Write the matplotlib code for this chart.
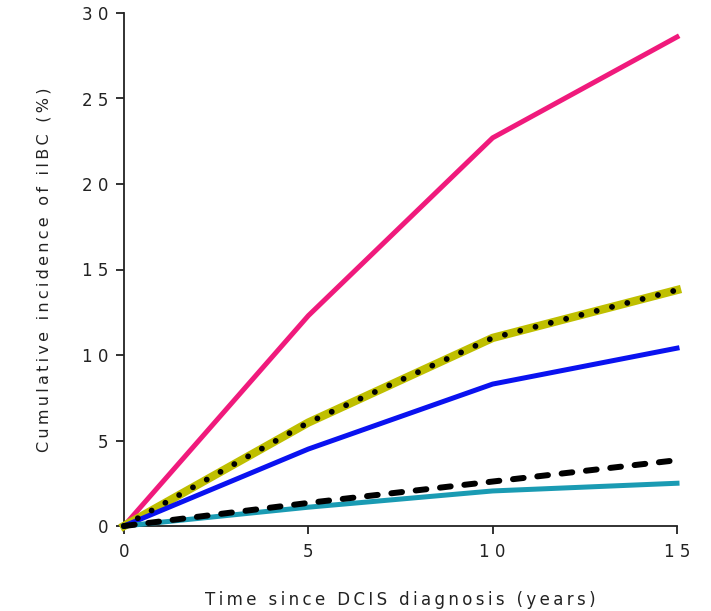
import numpy as np
import matplotlib.pyplot as plt

years = [0, 5, 10, 15]
pink = [0, 12.3, 22.7, 28.6]
olive = [0, 6.05, 11.0, 13.8]
blue = [0, 4.5, 8.3, 10.4]
dashed = [0, 1.35, 2.6, 3.85]
teal = [0, 1.1, 2.05, 2.5]

x_ticks = [0, 5, 10, 15]
y_ticks = [0, 5, 10, 15, 20, 25, 30]

x_label = 'Time since DCIS diagnosis (years)'
y_label = 'Cumulative incidence of iIBC (%)'


def spaced(v):
    # tick labels in the original have a gap between digits
    return ' '.join(str(v))


def tracked(s):
    # loose letter spacing, done with thin spaces
    return '\u2009'.join(s)


fig = plt.figure(figsize=(7.11, 6.11), dpi=100)
ax = fig.add_axes([124 / 711, 85 / 611, 553 / 711, 513 / 611])

ax.plot(years, pink, color='#f01a7c', lw=3.6, clip_on=False, zorder=3)
ax.plot(years, olive, color='#bfbf00', lw=6.0, clip_on=False, zorder=3)
ax.plot(years, olive, color='black', lw=4.2, ls=(0, (0.01, 2.7)),
        dash_capstyle='round', clip_on=False, zorder=4)
ax.plot(years, blue, color='#0a12f0', lw=3.6, clip_on=False, zorder=3)
ax.plot(years, teal, color='#1a9bb3', lw=3.6, clip_on=False, zorder=3)
ax.plot(years, dashed, color='black', lw=4.3, ls=(0, (1.8, 2.3)),
        dash_capstyle='round', clip_on=False, zorder=4)

ax.set_xlim(0, 15)
ax.set_ylim(0, 30)
ax.set_xticks(x_ticks)
ax.set_xticklabels([spaced(v) for v in x_ticks])
ax.set_yticks(y_ticks)
ax.set_yticklabels([spaced(v) for v in y_ticks])

for s in ['top', 'right']:
    ax.spines[s].set_visible(False)
for s in ['left', 'bottom']:
    ax.spines[s].set_linewidth(1.3)
    ax.spines[s].set_color('#222222')

ax.tick_params(direction='out', length=6, width=1.3, colors='#222222',
               labelsize=12, pad=5)
ax.tick_params(axis='x', pad=6)

ax.set_xlabel(tracked(x_label), fontsize=12, labelpad=22, color='#222222')
ax.set_ylabel(tracked(y_label), fontsize=11.5, labelpad=22, color='#222222')

fig.savefig('out.png', dpi=100)
